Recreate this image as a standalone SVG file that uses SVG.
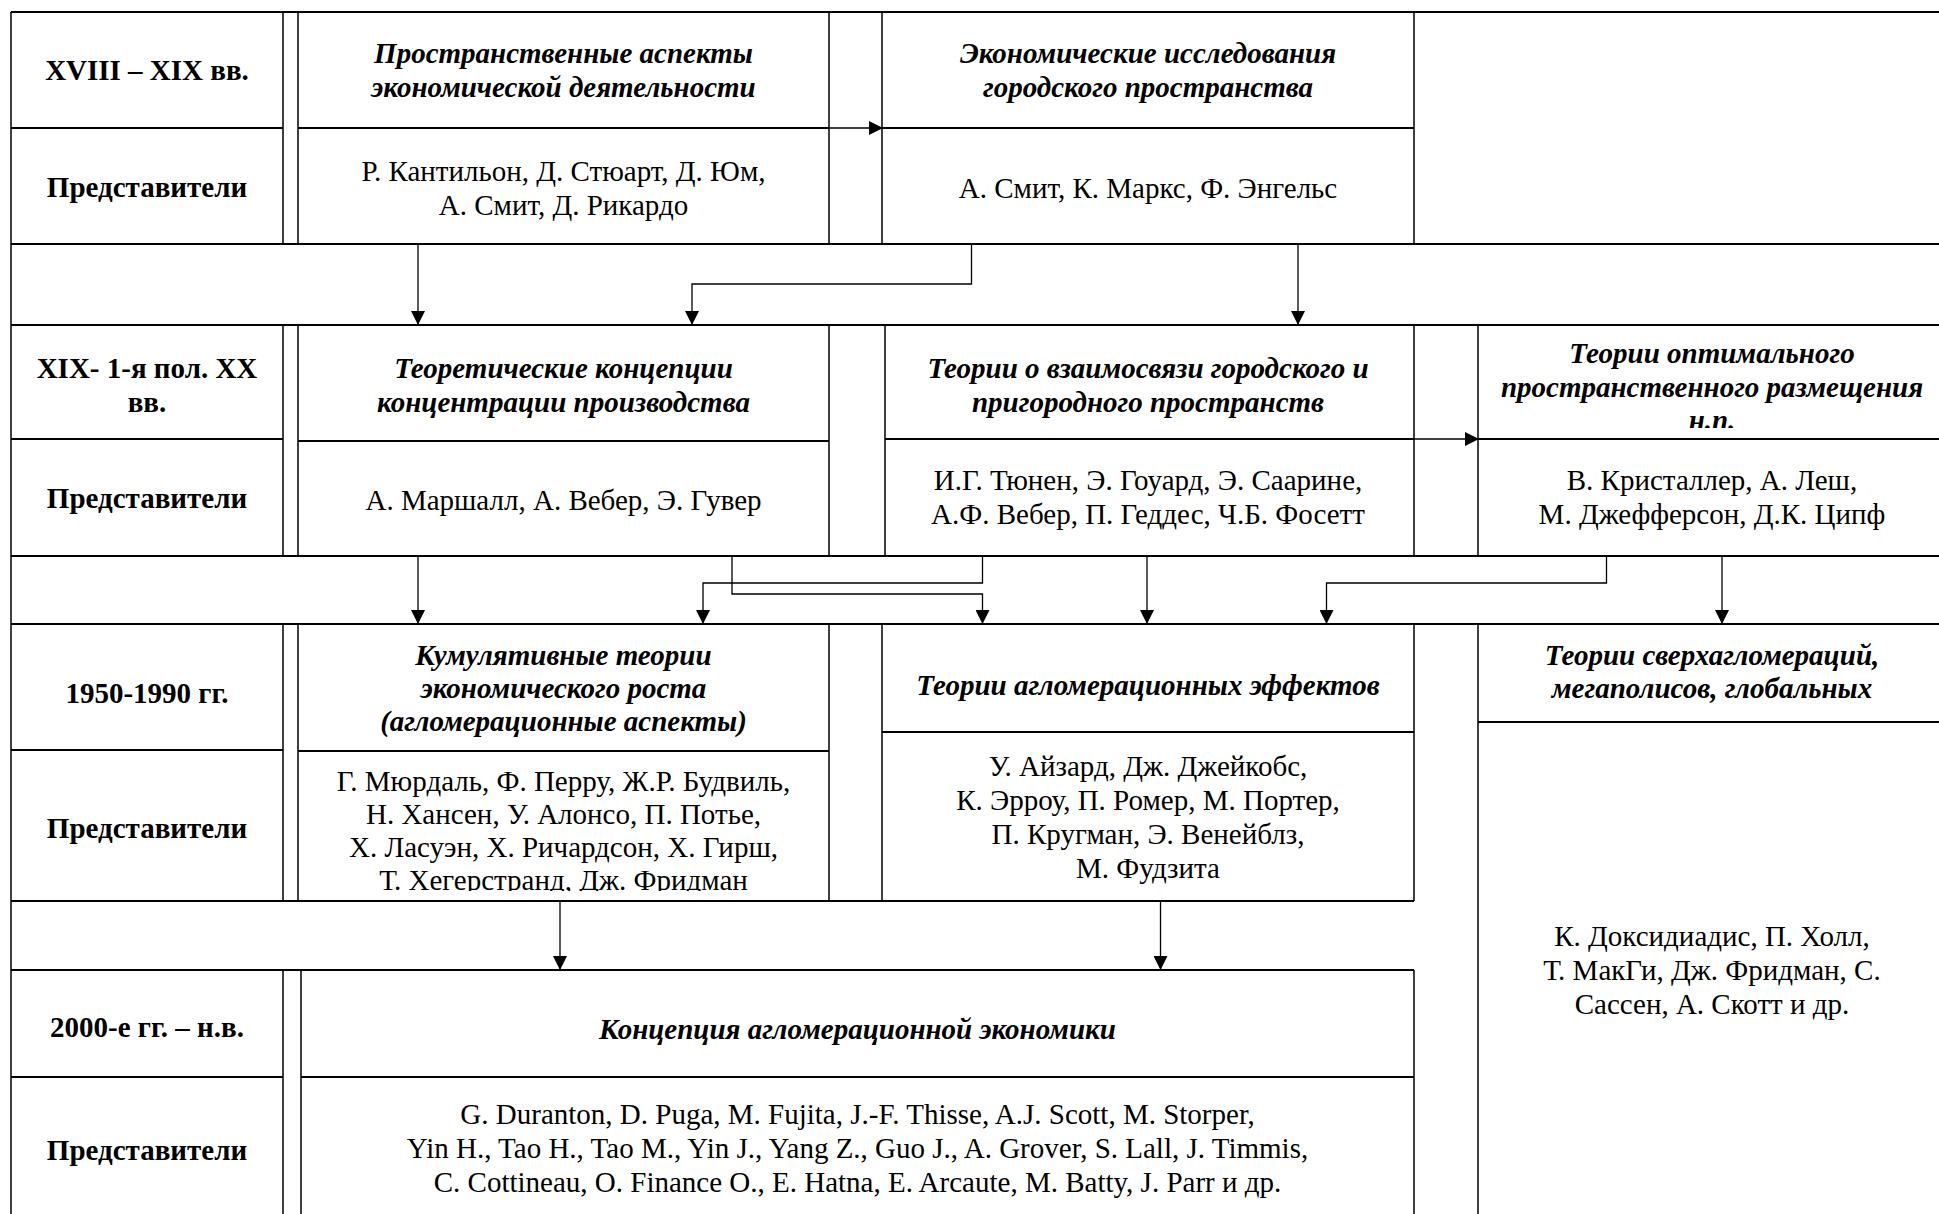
<svg xmlns="http://www.w3.org/2000/svg" width="1939" height="1214" viewBox="0 0 1939 1214">
<style>
.bg{fill:#fff}
.h{stroke:#000;stroke-width:2;fill:none}
.v{stroke:#000;stroke-width:1.5;fill:none}
.c{stroke:#000;stroke-width:1.3;fill:none}
text{font-family:"Liberation Serif","Times New Roman",serif;font-size:29px;fill:#000;text-anchor:middle}
.lab{font-weight:bold}
.hd{font-weight:bold;font-style:italic}
</style>
<defs>
<marker id="ah" markerWidth="14" markerHeight="14" refX="13" refY="7" orient="auto" markerUnits="userSpaceOnUse">
<path d="M0,0 L14,7 L0,14 z" fill="#000"/>
</marker>
<clipPath id="clipNP"><rect x="1478" y="325" width="461" height="103"/></clipPath>
<clipPath id="clipR3"><rect x="298" y="751" width="531" height="140"/></clipPath>
</defs>
<rect class="bg" x="0" y="0" width="1939" height="1214"/>

<g id="frame">
<path class="h" d="M11,12 H1939 M11,244 H1939 M11,325 H1939 M11,556 H1939 M11,624 H1939 M11,901 H1414 M11,970 H1414"/>
<path class="v" d="M11,12 V1214"/>
</g>

<g id="row1-label">
<path class="v" d="M283,12 V244 M298,12 V244"/>
<path class="h" d="M11,128 H283"/>
<text class="lab" x="147" y="80">XVIII – XIX вв.</text>
<text class="lab" x="147" y="197">Представители</text>
</g>
<g id="node-r1b1">
<path class="v" d="M829,12 V244"/>
<path class="h" d="M298,128 H829"/>
<text class="hd" x="563.5" y="63">Пространственные аспекты</text>
<text class="hd" x="563.5" y="97">экономической деятельности</text>
<text x="563.5" y="181">Р. Кантильон, Д. Стюарт, Д. Юм,</text>
<text x="563.5" y="215">А. Смит, Д. Рикардо</text>
</g>
<g id="node-r1b2">
<path class="v" d="M882,12 V244 M1414,12 V244"/>
<path class="h" d="M882,128 H1414"/>
<text class="hd" x="1148" y="63">Экономические исследования</text>
<text class="hd" x="1148" y="97">городского пространства</text>
<text x="1148" y="198">А. Смит, К. Маркс, Ф. Энгельс</text>
</g>

<g id="row2-label">
<path class="v" d="M283,325 V556 M298,325 V556"/>
<path class="h" d="M11,439 H283"/>
<text class="lab" x="147" y="378">XIX- 1-я пол. XX</text>
<text class="lab" x="147" y="412">вв.</text>
<text class="lab" x="147" y="508">Представители</text>
</g>
<g id="node-r2b1">
<path class="v" d="M829,325 V556"/>
<path class="h" d="M298,441 H829"/>
<text class="hd" x="563.5" y="378">Теоретические концепции</text>
<text class="hd" x="563.5" y="412">концентрации производства</text>
<text x="563.5" y="510">А. Маршалл, А. Вебер, Э. Гувер</text>
</g>
<g id="node-r2b2">
<path class="v" d="M885,325 V556 M1414,325 V556"/>
<path class="h" d="M885,439 H1414"/>
<text class="hd" x="1148" y="378">Теории о взаимосвязи городского и</text>
<text class="hd" x="1148" y="412">пригородного пространств</text>
<text x="1148" y="490">И.Г. Тюнен, Э. Гоуард, Э. Саарине,</text>
<text x="1148" y="524">А.Ф. Вебер, П. Геддес, Ч.Б. Фосетт</text>
</g>
<g id="node-r2b3">
<path class="v" d="M1478,325 V556"/>
<path class="h" d="M1478,439 H1939"/>
<text class="hd" x="1712" y="363">Теории оптимального</text>
<text class="hd" x="1712" y="397">пространственного размещения</text>
<text class="hd" x="1712" y="430" clip-path="url(#clipNP)">н.п.</text>
<text x="1712" y="490">В. Кристаллер, А. Леш,</text>
<text x="1712" y="524">М. Джефферсон, Д.К. Ципф</text>
</g>

<g id="row3-label">
<path class="v" d="M283,624 V901 M298,624 V901"/>
<path class="h" d="M11,750 H283"/>
<text class="lab" x="147" y="703">1950-1990 гг.</text>
<text class="lab" x="147" y="838">Представители</text>
</g>
<g id="node-r3b1">
<path class="v" d="M829,624 V901"/>
<path class="h" d="M298,751 H829"/>
<text class="hd" x="563.5" y="665">Кумулятивные теории</text>
<text class="hd" x="563.5" y="698">экономического роста</text>
<text class="hd" x="563.5" y="731">(агломерационные аспекты)</text>
<g clip-path="url(#clipR3)">
<text x="563.5" y="791">Г. Мюрдаль, Ф. Перру, Ж.Р. Будвиль,</text>
<text x="563.5" y="824">Н. Хансен, У. Алонсо, П. Потье,</text>
<text x="563.5" y="857">Х. Ласуэн, Х. Ричардсон, Х. Гирш,</text>
<text x="563.5" y="890">Т. Хегерстранд, Дж. Фридман</text>
</g>
</g>
<g id="node-r3b2">
<path class="v" d="M882,624 V901 M1414,624 V901"/>
<path class="h" d="M882,732 H1414"/>
<text class="hd" x="1148" y="695">Теории агломерационных эффектов</text>
<text x="1148" y="776">У. Айзард, Дж. Джейкобс,</text>
<text x="1148" y="810">К. Эрроу, П. Ромер, М. Портер,</text>
<text x="1148" y="844">П. Кругман, Э. Венейблз,</text>
<text x="1148" y="878">М. Фудзита</text>
</g>
<g id="node-r3b3">
<path class="v" d="M1478,624 V1214"/>
<path class="h" d="M1478,722 H1939"/>
<text class="hd" x="1712" y="665">Теории сверхагломераций,</text>
<text class="hd" x="1712" y="698">мегаполисов, глобальных</text>
<text x="1712" y="946">К. Доксидиадис, П. Холл,</text>
<text x="1712" y="980">Т. МакГи, Дж. Фридман, С.</text>
<text x="1712" y="1014">Сассен, А. Скотт и др.</text>
</g>

<g id="row4-label">
<path class="v" d="M283,970 V1214 M301,970 V1214"/>
<path class="h" d="M11,1077 H283"/>
<text class="lab" x="147" y="1037">2000-е гг. – н.в.</text>
<text class="lab" x="147" y="1160">Представители</text>
</g>
<g id="node-r4b1">
<path class="v" d="M1414,970 V1214"/>
<path class="h" d="M301,1077 H1414"/>
<text class="hd" x="857.5" y="1039">Концепция агломерационной экономики</text>
<text x="857.5" y="1124">G. Duranton, D. Puga, M. Fujita, J.-F. Thisse, A.J. Scott, M. Storper,</text>
<text x="857.5" y="1158">Yin H., Tao H., Tao M., Yin J., Yang Z., Guo J., A. Grover, S. Lall, J. Timmis,</text>
<text x="857.5" y="1192">C. Cottineau, O. Finance O., E. Hatna, E. Arcaute, M. Batty, J. Parr и др.</text>
</g>

<g id="connectors">
<path class="c" marker-end="url(#ah)" d="M829,128 H882"/>
<path class="c" marker-end="url(#ah)" d="M418,244 V324"/>
<path class="c" marker-end="url(#ah)" d="M971.5,244 V284 H692 V324"/>
<path class="c" marker-end="url(#ah)" d="M1298,244 V324"/>
<path class="c" marker-end="url(#ah)" d="M1414,439 H1478"/>
<path class="c" marker-end="url(#ah)" d="M418,556 V623"/>
<path class="c" marker-end="url(#ah)" d="M982.5,556 V583 H703 V623"/>
<path class="c" marker-end="url(#ah)" d="M732,556 V594 H982.5 V623"/>
<path class="c" marker-end="url(#ah)" d="M1147,556 V623"/>
<path class="c" marker-end="url(#ah)" d="M1606.5,556 V583 H1326.5 V623"/>
<path class="c" marker-end="url(#ah)" d="M1722,556 V623"/>
<path class="c" marker-end="url(#ah)" d="M560,901 V969"/>
<path class="c" marker-end="url(#ah)" d="M1160.5,901 V969"/>
</g>
</svg>
